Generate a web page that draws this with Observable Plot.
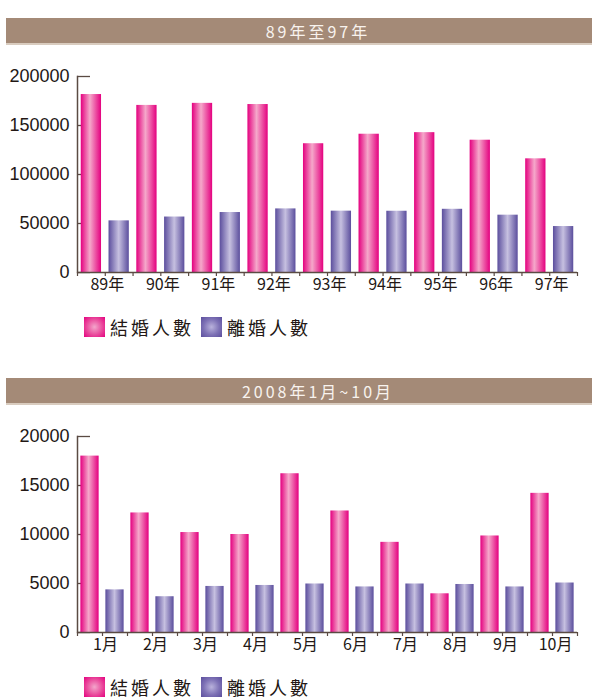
<!DOCTYPE html>
<html>
<head>
<meta charset="utf-8">
<script src="https://cdn.jsdelivr.net/npm/d3@7"></script>
<script src="https://cdn.jsdelivr.net/npm/@observablehq/plot@0.6"></script>
<style>
  html, body { margin: 0; padding: 0; background: #fff; }
  #page { position: relative; width: 600px; height: 700px; overflow: hidden; }
  .banner { position: absolute; left: 6px; width: 586px; height: 25px; background: #a48a77;
    border-bottom: 2px solid #d9ccbf; color: #f8f3ee; font-family: "Noto Sans CJK TC", sans-serif;
    font-size: 16px; letter-spacing: 3px; line-height: 27px; text-align: center; box-sizing: content-box; }
  .banner span { display: inline-block; padding-left: 38px; }
  .chart { position: absolute; left: 0; }
  .legend { position: absolute; left: 84px; height: 21px; display: flex; align-items: center;
    font-family: "Noto Sans CJK TC", sans-serif; font-size: 18px; letter-spacing: 3px; color: #231815; }
  .sw { width: 21px; height: 20px; margin-right: 5px; }
  .item { display: flex; align-items: center; margin-right: 7px; }
</style>
</head>
<body>
<svg width="0" height="0" style="position:absolute">
  <defs>
    <linearGradient id="gp" x1="0" x2="1" y1="0" y2="0">
      <stop offset="0" stop-color="#e4007f"/>
      <stop offset="0.45" stop-color="#f5a8ca"/>
      <stop offset="1" stop-color="#e4007f"/>
    </linearGradient>
    <linearGradient id="gv" x1="0" x2="1" y1="0" y2="0">
      <stop offset="0" stop-color="#5b4e9d"/>
      <stop offset="0.5" stop-color="#c6c0e0"/>
      <stop offset="1" stop-color="#5b4e9d"/>
    </linearGradient>
  </defs>
</svg>
<div id="page">
  <div class="banner" style="top:18px"><span id="t1"></span></div>
  <div class="chart" id="c1" style="top:45px"></div>
  <div class="legend" id="l1" style="top:316px"></div>
  <div class="banner" style="top:378px"><span id="t2"></span></div>
  <div class="chart" id="c2" style="top:405px"></div>
  <div class="legend" id="l2" style="top:676px"></div>
</div>
<script>
// ---- data ----
const title1 = "89年至97年";
const title2 = "2008年1月~10月";
const series = ["結婚人數", "離婚人數"];
const years = ["89年", "90年", "91年", "92年", "93年", "94年", "95年", "96年", "97年"];
const marriagesYear = [181600, 170500, 172600, 171400, 131400, 141100, 142700, 135000, 116000];
const divorcesYear  = [52700, 56600, 61200, 64900, 62600, 62500, 64500, 58500, 46900];
const yTicks1 = [0, 50000, 100000, 150000, 200000];
const months = ["1月", "2月", "3月", "4月", "5月", "6月", "7月", "8月", "9月", "10月"];
const marriagesMonth = [18000, 12200, 10200, 10000, 16200, 12400, 9200, 3950, 9850, 14200];
const divorcesMonth  = [4350, 3650, 4700, 4800, 4950, 4650, 4950, 4900, 4650, 5050];
const yTicks2 = [0, 5000, 10000, 15000, 20000];

const pinkSwatch = "radial-gradient(circle at 50% 50%, #f3a6cb 0%, #ea4a9c 55%, #e4007f 100%)";
const purpleSwatch = "radial-gradient(circle at 50% 50%, #b9b2dc 0%, #7d71b5 55%, #5b4e9d 100%)";

document.getElementById("t1").textContent = title1;
document.getElementById("t2").textContent = title2;

function rowsOf(groups, a, b) {
  const rows = [];
  groups.forEach((g, i) => {
    rows.push({key: g + "|" + series[0], group: g, series: series[0], value: a[i]});
    rows.push({key: g + "|" + series[1], group: g, series: series[1], value: b[i]});
  });
  return rows;
}

function chart(groups, a, b, yTicks, labelSpacing) {
  const rows = rowsOf(groups, a, b);
  const keys = rows.map(d => d.key);
  const W = 600, ML = 77, MR = 23;
  const step = (W - ML - MR) / keys.length;
  const ink = "#231815";
  const axisColor = "#5a4b43";
  const svg = Plot.plot({
    width: W, height: 260,
    marginLeft: ML, marginRight: MR, marginTop: 31, marginBottom: 33,
    x: {domain: keys, paddingInner: 0.27, paddingOuter: 0.135, align: 0.5, round: false, axis: null},
    y: {domain: [0, yTicks[yTicks.length - 1]], axis: null},
    color: {domain: series, range: ["url(#gp)", "url(#gv)"]},
    marks: [
      Plot.axisY({ticks: yTicks, tickSize: 13, dx: 13, text: null, label: null, stroke: axisColor, strokeWidth: 1.3}),
      Plot.axisY({ticks: yTicks, tickSize: 0, tickPadding: 8, label: null, tickFormat: d => String(d),
        fontSize: 18, fill: ink, fontFamily: "'Liberation Sans', Arial, sans-serif"}),
      Plot.barY(rows, {x: "key", y: "value", fill: "series"}),
      Plot.ruleY([0], {stroke: axisColor, strokeWidth: 1.5}),
      Plot.frame({anchor: "left", stroke: axisColor, strokeWidth: 1.5}),
      Plot.axisX({ticks: keys, tickSize: 4, text: null, label: null, dx: -step / 2, stroke: axisColor, strokeWidth: 1.2}),
      Plot.axisX({ticks: [keys[keys.length - 1]], tickSize: 4, text: null, label: null, dx: step / 2, stroke: axisColor, strokeWidth: 1.2}),
      Plot.text(rows.filter(d => d.series === series[0]), {
        x: "key", text: "group", frameAnchor: "bottom", lineAnchor: "top",
        dx: step / 2 + labelSpacing / 2, dy: 6, fontSize: 16, fill: ink,
        fontFamily: "'Noto Sans CJK TC', sans-serif", ariaLabel: "grouplabel"
      })
    ]
  });
  svg.querySelectorAll('g[aria-label="grouplabel"] text').forEach(t => {
    t.style.letterSpacing = labelSpacing + "px";
  });
  return svg;
}

function legend(el) {
  el.innerHTML = "";
  [[series[0], pinkSwatch], [series[1], purpleSwatch]].forEach(([name, bg]) => {
    const it = document.createElement("div");
    it.className = "item";
    const sw = document.createElement("div");
    sw.className = "sw";
    sw.style.background = bg;
    const tx = document.createElement("span");
    tx.textContent = name;
    it.appendChild(sw); it.appendChild(tx);
    el.appendChild(it);
  });
}

document.getElementById("c1").appendChild(chart(years, marriagesYear, divorcesYear, yTicks1, 4));
document.getElementById("c2").appendChild(chart(months, marriagesMonth, divorcesMonth, yTicks2, 6));
legend(document.getElementById("l1"));
legend(document.getElementById("l2"));
</script>
</body>
</html>
